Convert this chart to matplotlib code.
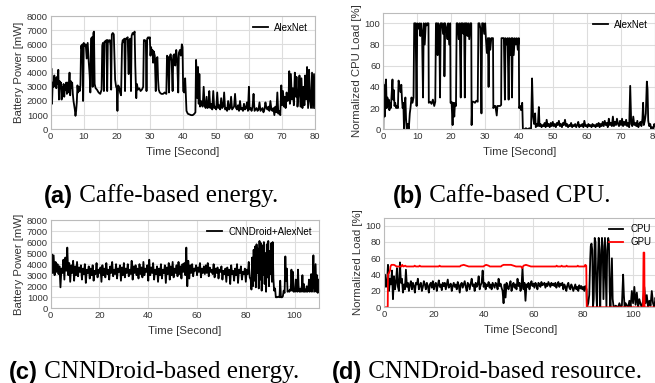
import matplotlib
matplotlib.use('Agg')
import matplotlib.pyplot as plt
import numpy as np

plt.rcParams['font.family'] = ['Liberation Sans', 'DejaVu Sans']

# (a) Caffe-based energy: time [s], battery power [mW]
t_a = [0.0, 0.2, 0.4, 0.6, 0.9, 1.1, 1.3, 1.5, 1.7, 1.9, 2.1, 2.3, 2.5, 2.7, 2.9, 3.1, 3.3, 3.5, 3.7, 3.9,
       4.1, 4.3, 4.5, 4.7, 4.9, 5.1, 5.3, 5.5, 5.7, 5.9, 6.1, 6.3, 6.5, 6.7, 6.9, 7.1, 7.3, 7.5, 7.7, 7.9,
       8.1, 8.3, 8.5, 8.8, 9.0, 9.2, 9.4, 9.6, 9.8, 10.0, 10.3, 10.6, 10.9, 11.2, 11.5, 11.8, 12.0, 12.2, 12.5, 12.7,
       12.9, 13.1, 13.3, 13.6, 14.0, 14.5, 15.0, 15.4, 15.6, 15.8, 16.1, 16.3, 16.6, 16.9, 17.1, 17.3, 17.6, 17.9, 18.1, 18.3,
       18.5, 18.8, 19.1, 19.3, 19.5, 19.8, 20.0, 20.2, 20.4, 20.7, 21.0, 21.3, 21.6, 21.8, 22.0, 22.3, 22.5, 22.7, 23.0, 23.3,
       23.6, 23.8, 24.1, 24.3, 24.5, 24.8, 25.1, 25.4, 25.6, 25.9, 26.1, 26.4, 26.8, 27.2, 27.6, 28.0, 28.2, 28.5, 28.8, 29.0,
       29.2, 29.5, 29.8, 30.0, 30.2, 30.4, 30.6, 30.8, 31.0, 31.2, 31.5, 31.8, 32.0, 32.3, 32.5, 32.7, 33.0, 33.5, 34.0, 34.5,
       35.0, 35.2, 35.5, 35.8, 36.0, 36.3, 36.6, 36.9, 37.1, 37.4, 37.7, 38.0, 38.3, 38.6, 38.8, 39.1, 39.4, 39.7, 39.9, 40.1,
       40.4, 40.7, 40.9, 41.1, 41.5, 42.0, 42.5, 43.0, 43.5, 43.8, 44.0, 44.2, 44.4, 44.6, 44.8, 45.0, 45.2, 45.5, 45.8, 46.0,
       46.3, 46.6, 46.9, 47.2, 47.5, 47.8, 48.0, 48.3, 48.6, 48.9, 49.2, 49.5, 49.8, 50.1, 50.4, 50.7, 51.0, 51.3, 51.6, 51.9,
       52.2, 52.5, 52.8, 53.1, 53.4, 53.7, 54.0, 54.3, 54.6, 54.9, 55.2, 55.5, 55.8, 56.1, 56.4, 56.7, 57.0, 57.3, 57.6, 57.9,
       58.2, 58.5, 58.8, 59.1, 59.4, 59.7, 60.0, 60.2, 60.5, 60.8, 61.1, 61.4, 61.7, 62.0, 62.3, 62.6, 62.9, 63.2, 63.5, 63.8,
       64.1, 64.4, 64.7, 65.0, 65.3, 65.6, 65.9, 66.2, 66.5, 66.8, 67.1, 67.4, 67.7, 68.0, 68.3, 68.6, 68.9, 69.2, 69.5, 69.8,
       70.0, 70.3, 70.6, 70.9, 71.1, 71.4, 71.7, 72.0, 72.2, 72.4, 72.7, 73.0, 73.3, 73.6, 73.9, 74.2, 74.4, 74.7, 75.0, 75.3,
       75.6, 75.9, 76.2, 76.5, 76.8, 77.0, 77.3, 77.6, 77.9, 78.2, 78.5, 78.8, 79.1, 79.4, 79.7, 80.0]
power_a = [2900, 4300, 1800, 3300, 3000, 3800, 3100, 3600, 2900, 3700, 3200, 4200, 2100, 3400, 2900, 3300, 2100, 3000, 2600, 3200,
           2300, 3100, 2800, 3300, 2500, 3300, 2600, 3000, 4000, 2400, 3400, 2900, 3300, 2500, 2000, 1700, 1400, 950, 1300, 1900,
           3100, 2600, 3000, 2700, 3100, 5900, 5700, 6000, 2000, 6100, 5900, 6000, 5000, 6100, 4800, 3800, 2600, 6400, 6500, 3000,
           6800, 6900, 3200, 2900, 2800, 2600, 2500, 2800, 5900, 6100, 2700, 6200, 6200, 6300, 2700, 6300, 6200, 6300, 5900, 2800,
           6700, 6800, 6700, 5200, 3500, 3000, 2900, 1300, 3100, 3000, 2600, 2400, 6000, 6300, 6200, 6400, 2700, 6400, 6400, 6500,
           3900, 6300, 6400, 2700, 6600, 6800, 6700, 6900, 4500, 2200, 3200, 2800, 2900, 2700, 2800, 3000, 6300, 6300, 6200, 2700,
           6400, 6500, 6400, 6500, 5200, 5800, 5300, 5600, 4700, 5500, 5200, 2700, 5000, 5100, 3500, 2800, 2600, 2500, 2500, 2600,
           2500, 5200, 5100, 2600, 5100, 5300, 4800, 2700, 5200, 5300, 4500, 5600, 4800, 2600, 5400, 5600, 5200, 6000, 5800, 2700,
           2600, 3600, 2400, 1300, 1100, 1050, 1000, 1000, 1100, 1200, 4900, 3800, 2200, 4400, 1800, 3900, 1600, 2000, 1700, 1600,
           3000, 1700, 1500, 2300, 1500, 1700, 2700, 1500, 1800, 1400, 2700, 1500, 1600, 1400, 2600, 1500, 1700, 1400, 2200, 1500,
           1600, 2600, 1400, 1500, 1300, 2000, 1400, 1500, 2300, 1400, 1500, 1600, 2500, 1500, 1400, 1700, 1300, 2000, 1400, 1500,
           1300, 1800, 1400, 1500, 1900, 1300, 3000, 1400, 1500, 1300, 1600, 2500, 1300, 1400, 1500, 1300, 1400, 1900, 1300, 1400,
           1500, 1200, 1400, 1900, 1500, 1400, 1600, 1300, 2000, 1400, 1300, 1500, 1000, 1600, 1200, 2600, 1100, 1300, 1000, 3100,
           1700, 2700, 1600, 2300, 1500, 2600, 2000, 2200, 4100, 1800, 3900, 2100, 2900, 1700, 4000, 2300, 3700, 1600, 2500, 3800,
           1600, 3600, 1500, 3000, 1700, 3800, 2100, 4400, 1500, 4200, 2000, 1500, 4000, 1500, 3900, 1500]

# (b) Caffe-based CPU load [%]
t_b = [0.0, 0.1, 0.3, 0.4, 0.6, 0.8, 1.0, 1.2, 1.4, 1.6, 1.8, 2.0, 2.2, 2.4, 2.7, 2.9, 3.1, 3.3, 3.5, 3.8,
       4.0, 4.3, 4.5, 4.7, 4.9, 5.1, 5.3, 5.5, 5.7, 5.9, 6.1, 6.3, 6.5, 6.7, 6.9, 7.2, 7.5, 7.8, 8.0, 8.3,
       8.6, 8.9, 9.1, 9.5, 9.8, 10.0, 10.3, 10.6, 10.9, 11.1, 11.4, 11.7, 11.9, 12.2, 12.5, 12.8, 13.0, 13.3,
       13.4, 13.8, 14.2, 14.6, 15.0, 15.3,
       15.5, 15.8, 16.0, 16.2, 16.5, 16.7, 16.9, 17.3, 17.6, 17.9, 18.0, 18.2, 18.6, 18.9, 19.1, 19.4, 19.7,
       19.8, 20.1, 20.4, 20.6, 20.9, 21.1, 21.4,
       21.6, 21.9, 22.2, 22.5, 22.8, 23.0, 23.3, 23.6, 23.8, 24.0, 24.2, 24.5, 24.8, 25.0, 25.3, 25.6, 25.9,
       26.0, 26.2, 26.6, 27.0, 27.4, 27.8,
       28.0, 28.3, 28.6, 28.9, 29.1, 29.4, 29.7, 30.0, 30.2, 30.5, 30.8, 31.0, 31.2, 31.5, 31.8, 32.1, 32.3,
       32.4, 32.7, 33.0, 33.4, 33.6, 34.0, 34.4, 34.7,
       34.8, 35.1, 35.5, 35.8, 36.0, 36.3, 36.6, 36.9, 37.1, 37.4, 37.7, 37.9, 38.1, 38.4, 38.7, 39.0, 39.3, 39.6, 39.9,
       40.0, 40.3, 40.6, 40.9, 41.1, 41.5, 42.0, 42.5, 43.0, 43.5,
       43.8, 44.1, 44.4, 44.7, 44.9, 45.2, 45.5, 45.8, 46.0, 46.3, 46.6, 46.9, 47.2, 47.5, 47.8, 48.1, 48.4, 48.7, 49.0, 49.3,
       49.6, 49.9, 50.2, 50.5, 50.8, 51.1, 51.4, 51.7, 52.0, 52.3, 52.6, 52.9, 53.2, 53.5, 53.8, 54.1, 54.4, 54.7, 55.0, 55.3,
       55.6, 55.9, 56.2, 56.5, 56.8, 57.1, 57.4, 57.7, 58.0, 58.3, 58.6, 58.9, 59.2, 59.5, 59.8, 60.1, 60.4, 60.7, 61.0, 61.3,
       61.6, 61.9, 62.2, 62.5, 62.8, 63.1, 63.4, 63.7, 64.0, 64.3, 64.6, 64.9, 65.2, 65.5, 65.8, 66.1, 66.4, 66.7, 67.0, 67.3,
       67.6, 67.9, 68.2, 68.5, 68.8, 69.1, 69.4, 69.7, 70.0, 70.3, 70.6, 70.9, 71.2, 71.5, 71.8, 72.1, 72.4, 72.7, 73.0, 73.3,
       73.6, 73.9, 74.2, 74.5, 74.8, 75.1, 75.4, 75.7, 76.0, 76.3, 76.5, 76.7, 77.0, 77.3, 77.6, 77.8, 78.0, 78.3, 78.6, 78.9,
       79.2, 79.5, 79.8, 80.0]
cpu_b = [0, 42, 30, 12, 40, 47, 20, 30, 22, 28, 18, 25, 20, 30, 47, 28, 37, 22, 25, 20,
         22, 20, 46, 42, 40, 35, 42, 28, 20, 25, 0, 22, 30, 10, 0, 5, 0, 15, 20, 30,
         25, 30, 100, 100, 22, 100, 95, 100, 88, 100, 92, 30, 100, 80, 100, 98, 100, 100,
         25, 26, 24, 28, 22, 26,
         100, 100, 70, 100, 95, 30, 100, 100, 90, 100, 50, 100, 95, 85, 100, 80, 100,
         25, 26, 4, 25, 12, 25, 22,
         100, 100, 85, 100, 30, 100, 100, 90, 100, 30, 100, 100, 88, 100, 85, 100, 100,
         4, 26, 26, 25, 27, 26,
         100, 100, 95, 15, 100, 100, 90, 100, 86, 72, 86, 40, 86, 75, 86, 86, 86,
         20, 22, 22, 13, 22, 22, 22, 23,
         86, 86, 86, 28, 86, 80, 86, 28, 86, 70, 86, 30, 86, 70, 86, 80, 86, 75, 86,
         20, 22, 18, 25, 0, 0, 1, 0, 1, 0,
         48, 12, 5, 15, 2, 5, 3, 21, 3, 5, 2, 4, 3, 6, 2, 9, 3, 5, 2, 6,
         3, 7, 3, 5, 2, 6, 4, 8, 3, 5, 2, 6, 4, 9, 3, 5, 2, 4, 3, 6,
         2, 4, 3, 5, 2, 4, 7, 2, 4, 3, 5, 2, 8, 3, 4, 2, 5, 3, 4, 2,
         5, 3, 4, 2, 5, 3, 6, 2, 5, 3, 7, 3, 8, 4, 6, 2, 10, 4, 6, 3,
         12, 3, 7, 4, 10, 5, 3, 8, 4, 10, 3, 7, 4, 9, 3, 6, 2, 41, 5, 3,
         12, 4, 6, 3, 8, 2, 5, 7, 3, 10, 25, 4, 8, 15, 45, 38, 8, 3, 5, 0,
         2, 0, 5, 3]

# (c) CNNDroid-based energy: steady part sampled every 0.4 s from 0 s, then burst/tail
step_c = 0.4
power_c_steady = [2500, 4900, 3200, 4800, 3000, 4200, 3300, 4000, 3100, 3800,
                  1900, 3600, 3200, 4400, 2600, 4600, 3400, 5500, 3000, 4100,
                  2400, 3900, 3200, 4300, 2500, 3800, 3000, 4200, 2900, 3700,
                  3300, 3900, 2600, 3600, 3100, 4000, 2300, 3500, 3200, 3800,
                  2700, 3600, 3000, 3900, 2500, 3400, 3100, 4100, 2800, 3500,
                  3200, 3700, 2400, 3900, 3000, 3600, 2800, 4100, 3100, 3500,
                  2600, 3800, 3200, 4200, 2900, 3500, 3100, 4000, 2700, 3600,
                  3300, 3900, 2500, 3700, 3000, 4100, 2800, 3600, 3200, 4000,
                  2900, 3500, 3100, 4300, 2600, 3800, 3200, 3900, 3000, 3600,
                  2700, 4000, 3100, 3700, 2800, 4200, 3000, 3600, 3300, 3900,
                  2500, 4400, 3000, 3700, 3200, 4100, 2600, 3500, 3100, 3800,
                  2400, 3600, 3000, 4000, 2700, 3500, 3200, 3900, 2300, 3700,
                  3100, 4100, 2600, 3800, 3000, 4200, 2800, 3600, 3200, 3900,
                  2900, 4200, 3100, 3800, 2700, 4000, 3300, 4100, 3000, 5500,
                  2000, 4300, 2700, 3900, 3200, 4000, 2900, 3600, 3400, 3900,
                  3000, 3700, 3300, 4100, 2800, 3600, 3200, 3800, 3100, 3900,
                  3200, 4100, 2900, 3700, 3300, 3500, 3100, 4000, 2800, 3600,
                  3200, 3700, 2700, 3500, 3300, 3800, 2600, 3400, 3100, 3600,
                  2400, 3700, 3000, 3500, 2200, 3900, 3100, 3400, 2500, 3600,
                  3000, 4000, 2300, 3500, 3200, 3800, 2600, 3300, 3100, 3600,
                  2400, 3500, 3100, 4200, 2800]
t_c_tail = [82.0, 82.3, 82.6, 82.9, 83.2, 83.5, 83.8, 84.1, 84.4, 84.7, 85.0, 85.3, 85.6, 85.9, 86.2, 86.5, 86.8, 87.1, 87.4, 87.7,
            88.0, 88.3, 88.6, 88.9, 89.2, 89.5, 89.8, 90.1, 90.4, 90.7, 91.0, 91.3, 91.6, 92.0, 92.3, 92.8, 93.3, 93.8, 94.1, 94.4,
            94.9, 95.2, 95.5, 95.9, 96.2, 96.5, 96.8, 97.1, 97.4, 97.8, 98.1, 98.4, 98.7, 99.0, 99.3, 99.6, 99.9, 100.2, 100.5, 100.8,
            101.1, 101.4, 101.7, 102.0, 102.3, 102.6, 102.9, 103.2, 103.5, 103.8, 104.1, 104.4, 104.7, 105.0, 105.3, 105.6, 105.9, 106.2, 106.5, 106.8,
            107.1, 107.4, 107.7, 108.0, 108.3, 108.6, 108.9, 109.2, 109.5, 109.8, 110.0]
power_c_tail = [2600, 1700, 4600, 2000, 5300, 2500, 5600, 1900, 5800, 3200, 5400, 1800, 6100, 2600, 5900, 1600, 5700, 3000, 6000, 2200,
                5000, 1500, 5800, 2800, 6100, 2000, 5200, 3100, 5900, 2400, 6000, 2700, 1600, 1800, 1000, 1000, 1050, 1000, 2500, 1000,
                1000, 1100, 1600, 1400, 4700, 2500, 3600, 1500, 1600, 1500, 1700, 1600, 3500, 1600, 3300, 1500, 1700, 1500, 2600, 1600,
                1500, 3500, 1600, 1500, 1800, 1500, 1600, 3000, 1500, 2200, 1500, 1700, 1500, 2000, 1500, 1600, 2600, 1500, 1600, 3100,
                1500, 2200, 4800, 1500, 2800, 4000, 1500, 3000, 1400, 2600, 1500]

# (d) CNNDroid-based resource: CPU steady part every 0.4 s from 0 s, then tail
step_d = 0.4
cpu_d_steady = [22, 40, 25, 30, 52, 20, 35, 28, 45, 10,
                38, 22, 30, 48, 25, 20, 55, 30, 35, 18,
                28, 22, 46, 25, 30, 20, 28, 32, 22, 30,
                26, 18, 30, 28, 35, 22, 27, 30, 20, 25,
                32, 28, 22, 30, 26, 18, 28, 30, 24, 32,
                22, 28, 30, 20, 27, 33, 25, 28, 21, 30,
                26, 30, 22, 28, 34, 24, 27, 29, 20, 26,
                30, 25, 28, 22, 31, 27, 18, 28, 30, 24,
                28, 32, 25, 20, 30, 28, 22, 29, 35, 26,
                28, 20, 30, 25, 28, 38, 22, 27, 30, 45,
                25, 30, 22, 28, 26, 31, 24, 28, 22, 30,
                27, 24, 30, 28, 22, 35, 26, 29, 24, 20,
                5, 28, 12, 30, 25, 22, 28, 32, 20, 27,
                30, 24, 28, 22, 35, 26, 30, 20, 25, 48,
                22, 30, 8, 28, 25, 30, 22, 28, 32, 26,
                29, 24, 30, 27, 22, 30, 28, 25, 31, 27,
                28, 30, 24, 29, 26, 31, 28, 25, 30, 27,
                29, 26, 30, 24, 28, 31, 25, 29, 27, 30,
                22, 28, 25, 20, 27, 30, 24, 22, 28, 25,
                20, 24, 28, 22, 25, 20, 27, 23, 26, 22,
                25, 20, 26]
t_d_tail = [81.0, 81.3, 81.5, 82.0, 82.4, 82.8, 83.0, 83.3, 83.6, 83.9, 84.2, 84.6, 84.9, 85.2, 85.5, 85.8, 86.2, 86.5, 86.8, 87.2,
            87.5, 87.8, 88.1, 88.4, 88.7, 89.0, 89.3, 89.6, 90.0, 90.3, 90.6, 90.9, 91.2, 91.5, 91.8, 92.2, 93.0, 94.0, 94.5, 95.0,
            95.5, 96.0, 96.3, 96.6, 97.0, 97.5, 98.0, 98.5, 99.0, 99.5, 100.0, 100.5, 101.0, 101.5, 102.0, 102.5, 103.0, 103.5, 104.0, 104.5,
            105.0, 105.5, 106.0, 106.5, 107.0, 107.5, 108.0, 108.5, 109.0, 109.5, 110.0]
cpu_d_tail = [25, 22, 0, 5, 15, 60, 75, 78, 70, 0, 10, 85, 80, 20, 0, 40, 85, 70, 0, 60,
              85, 75, 10, 50, 85, 40, 0, 70, 85, 80, 20, 0, 30, 60, 10, 0, 2, 0, 5, 0,
              2, 40, 15, 0, 5, 2, 0, 8, 0, 20, 5, 25, 3, 18, 0, 10, 4, 0, 8, 25,
              5, 15, 0, 8, 2, 20, 5, 0, 12, 2, 0]
t_gpu = [0, 1.5, 1.6, 2.0, 2.4, 2.6, 3.0, 4.0, 4.6, 5.0, 7.0, 7.3, 7.8, 8.5, 9.0, 12.0, 12.3, 12.8, 14.0, 14.3,
         14.8, 22.0, 22.3, 22.8, 30.5, 30.8, 32.0, 33.0, 34.0, 40.0, 40.3, 41.0, 42.0, 42.5, 47.0, 47.3, 48.0, 51.0, 52.0, 53.0,
         55.0, 55.5, 56.0, 57.0, 58.0, 59.0, 69.0, 69.3, 69.7, 71.0, 71.3, 71.7, 73.0, 73.3, 73.7, 77.5, 77.8, 78.1, 80.5, 80.8,
         81.2, 81.4, 104.0, 104.2, 104.5, 104.6, 110.0]
gpu_d = [0, 0, 40, 42, 45, 50, 52, 52, 51, 50, 50, 52, 50, 51, 50, 50, 51, 50, 50, 51,
         50, 50, 51, 50, 50, 51, 52, 51, 50, 50, 51, 52, 51, 50, 50, 51, 52, 52, 51, 50,
         50, 48, 51, 52, 51, 50, 50, 51, 50, 50, 51, 50, 50, 51, 50, 50, 51, 50, 50, 52,
         51, 0, 0, 67, 67, 0, 0]

W, H = 655, 383
fig = plt.figure(figsize=(W / 100, H / 100), dpi=100)


def style(ax, xlim, xticks, ylim, yticks, ylabel):
    ax.set_xlim(*xlim)
    ax.set_ylim(*ylim)
    ax.set_xticks(xticks)
    ax.set_yticks(yticks)
    ax.grid(True, color='#dddddd', lw=0.8)
    ax.set_axisbelow(True)
    for s in ax.spines.values():
        s.set_color('#bbbbbb')
        s.set_linewidth(0.8)
    ax.tick_params(length=0, labelsize=6.8, labelcolor='#333333', pad=2)
    ax.set_xlabel('Time [Second]', fontsize=8.2, color='#333333', labelpad=4)
    ax.set_ylabel(ylabel, fontsize=8.2, color='#333333', labelpad=2)


def box(l, r, t, b):
    return [l / W, 1 - b / H, (r - l) / W, (b - t) / H]


ax_a = fig.add_axes(box(50.7, 315, 16, 129.3))
ax_a.plot(t_a, power_a, color='black', lw=1.3, label='AlexNet')
style(ax_a, (0, 80), range(0, 81, 10), (0, 8000), range(0, 8001, 1000), 'Battery Power [mW]')

ax_b = fig.add_axes(box(383.3, 655, 12.7, 129.3))
ax_b.plot(t_b, cpu_b, color='black', lw=1.3, label='AlexNet')
style(ax_b, (0, 80), range(0, 81, 10), (0, 110), range(0, 101, 20), 'Normalized CPU Load [%]')

t_c = list(np.arange(len(power_c_steady)) * step_c) + t_c_tail
ax_c = fig.add_axes(box(50.7, 319, 220, 308.3))
ax_c.plot(t_c, power_c_steady + power_c_tail, color='black', lw=1.3, label='CNNDroid+AlexNet')
style(ax_c, (0, 110), range(0, 101, 20), (0, 8000), range(0, 8001, 1000), 'Battery Power [mW]')

t_d = list(np.arange(len(cpu_d_steady)) * step_d) + t_d_tail
ax_d = fig.add_axes(box(384, 658, 217.5, 307.3))
ax_d.plot(t_d, cpu_d_steady + cpu_d_tail, color='black', lw=1.3, label='CPU')
ax_d.plot(t_gpu, gpu_d, color='red', lw=1.3, label='GPU')
style(ax_d, (0, 110), range(0, 101, 20), (0, 110), range(0, 101, 20), 'Normalized Load [%]')

for ax in (ax_a, ax_b, ax_c, ax_d):
    ax.legend(loc='upper right', frameon=False, fontsize=7, handlelength=1.5,
              borderaxespad=0.3, labelspacing=0.3, handletextpad=0.7)

# sub-captions: bold sans letter + serif text, centred under each panel
fig.canvas.draw()
renderer = fig.canvas.get_renderer()
captions = [(161, 196, '(a)', ' Caffe-based energy.'),
            (502, 196, '(b)', ' Caffe-based CPU.'),
            (154, 372, '(c)', ' CNNDroid-based energy.'),
            (487, 372, '(d)', ' CNNDroid-based resource.')]
for cx, y, tag, rest in captions:
    t1 = fig.text(0, 1 - y / H, tag, fontsize=17, fontweight='bold',
                  family='Liberation Sans', va='center', ha='left')
    t2 = fig.text(0, 1 - y / H, rest, fontsize=18, family='Liberation Serif',
                  va='center', ha='left')
    w1 = t1.get_window_extent(renderer).width
    w2 = t2.get_window_extent(renderer).width
    x0 = cx - (w1 + w2) / 2
    t1.set_x(x0 / W)
    t2.set_x((x0 + w1) / W)

fig.savefig('out.png', dpi=100)
